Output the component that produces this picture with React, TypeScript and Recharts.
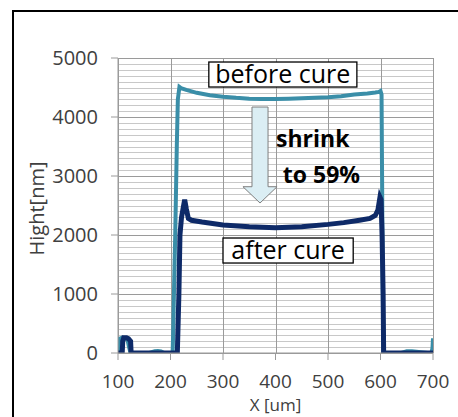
import React from 'react'
import {
  LineChart, Line, XAxis, YAxis, ReferenceArea, ReferenceDot
} from 'recharts'

// before cure profile (x in um, height in nm)
const beforeX = [100, 101, 103, 108, 112, 118, 121, 124, 160, 170, 176, 182, 188, 200, 204, 205, 207, 209, 212, 214, 217, 220, 230, 250, 275, 300, 325, 350, 375, 400, 425, 450, 475, 500, 525, 550, 575, 590, 597, 600, 602, 603, 604, 605.5, 640, 650, 660, 690, 697, 699, 700]
const beforeH = [0, 150, 240, 260, 250, 230, 100, 0, 0, 30, 35, 25, 0, 0, 0, 300, 1200, 2000, 3500, 4300, 4510, 4490, 4460, 4410, 4370, 4345, 4325, 4310, 4305, 4305, 4310, 4318, 4325, 4333, 4350, 4380, 4400, 4415, 4425, 4440, 4380, 3000, 1500, 0, 0, 30, 30, 0, 0, 80, 250]

// after cure profile
const afterX = [100, 108, 109, 111, 116, 120, 124, 125, 160, 200, 213, 216, 218, 221, 224, 227, 230, 234, 240, 260, 300, 350, 400, 450, 500, 530, 560, 580, 590, 595, 599, 601, 603, 605, 606, 650, 700]
const afterH = [0, 0, 200, 260, 260, 240, 200, 0, 0, 0, 0, 1000, 2000, 2300, 2450, 2600, 2450, 2280, 2250, 2220, 2170, 2140, 2125, 2140, 2180, 2210, 2250, 2280, 2330, 2420, 2640, 2600, 2000, 1000, 0, 0, 0]

const xTicks = [100, 200, 300, 400, 500, 600, 700]
const yTicks = [0, 1000, 2000, 3000, 4000, 5000]
const Y_MINOR_STEP = 100

const beforeData = beforeX.map((x, i) => ({ x, h: beforeH[i] }))
const afterData = afterX.map((x, i) => ({ x, h: afterH[i] }))

const FONT = '"Open Sans", sans-serif'
const TEXT_COLOR = '#404040'

// grid drawn inside the plot rectangle (minor every 100 nm, major at ticks)
const Grid = (props: any) => {
  const { x, y, width, height } = props
  const yMax = yTicks[yTicks.length - 1]
  const xMin = xTicks[0]
  const xMax = xTicks[xTicks.length - 1]
  const minor: number[] = []
  for (let v = Y_MINOR_STEP; v < yMax; v += Y_MINOR_STEP) if (v % 1000 !== 0) minor.push(v)
  const py = (v: number) => Math.round(y + height - (v / yMax) * height) + 0.5
  const px = (v: number) => Math.round(x + ((v - xMin) / (xMax - xMin)) * width) + 0.5
  return (
    <g shapeRendering="crispEdges">
      {minor.map(v => (
        <line key={'m' + v} x1={x} x2={x + width} y1={py(v)} y2={py(v)} stroke="#c8c8c8" strokeWidth={1} />
      ))}
      {yTicks.map(v => (
        <line key={'y' + v} x1={x} x2={x + width} y1={py(v)} y2={py(v)} stroke="#9a9a9a" strokeWidth={1} />
      ))}
      {xTicks.map(v => (
        <line key={'x' + v} x1={px(v)} x2={px(v)} y1={y} y2={y + height} stroke="#9a9a9a" strokeWidth={1} />
      ))}
    </g>
  )
}

const LabelBox = (text: string) => (props: any) => {
  const { x, y, width, height } = props
  return (
    <g>
      <rect x={x} y={y} width={width} height={height} fill="#fff" stroke="#000" strokeWidth={1.3} />
      <text x={x + width / 2} y={y + height / 2 + 8.5} textAnchor="middle" fontFamily={FONT} fontSize={25} fill="#000">{text}</text>
    </g>
  )
}

const Arrow = (props: any) => {
  const { x, y, width, height } = props
  const cx = x + width / 2
  const shaftW = width * 0.47
  const headH = height * 0.17
  const d = `M${cx - shaftW / 2},${y} L${cx + shaftW / 2},${y} L${cx + shaftW / 2},${y + height - headH} L${x + width},${y + height - headH} L${cx},${y + height} L${x},${y + height - headH} L${cx - shaftW / 2},${y + height - headH} Z`
  return <path d={d} fill="#dbeef4" stroke="#7f7f7f" strokeWidth={1} />
}

const BoldText = (text: string) => (props: any) => (
  <text x={props.cx} y={props.cy} fontFamily={FONT} fontSize={23} fontWeight="bold" fill="#000">{text}</text>
)

export default function App() {
  return (
    <div style={{ position: 'absolute', left: 0, top: 0, width: 458, height: 417, background: '#fff', overflow: 'hidden' }}>
      <div style={{ position: 'absolute', left: 12, top: 10, width: 500, height: 500, borderTop: '2px solid #000', borderLeft: '2px solid #000' }} />
      <div style={{ position: 'absolute', left: 0, top: 0 }}>
        <LineChart width={458} height={417} data={afterData} margin={{ top: 58, right: 25, left: 0, bottom: 0 }}>
          <ReferenceArea x1={100} x2={700} y1={0} y2={5000} ifOverflow="visible" shape={Grid} />
          <XAxis
            type="number" dataKey="x" domain={[100, 700]} ticks={xTicks} allowDataOverflow
            height={64} tickSize={7} tickMargin={15}
            stroke="#9a9a9a"
            tick={{ fontFamily: FONT, fontSize: 19, fill: TEXT_COLOR }}
            label={{ value: 'X [um]', position: 'insideBottom', offset: 6, fontFamily: FONT, fontSize: 17, fill: TEXT_COLOR }}
          />
          <YAxis
            type="number" domain={[0, 5000]} ticks={yTicks} allowDataOverflow
            width={118} tickSize={7} tickMargin={13}
            stroke="#9a9a9a"
            tick={{ fontFamily: FONT, fontSize: 20, fill: TEXT_COLOR }}
            label={{
              content: (p: any) => {
                const vb = p.viewBox
                const cx = vb.x + 36
                const cy = vb.y + vb.height / 2 + 3
                return (
                  <text x={cx} y={cy} transform={`rotate(-90 ${cx} ${cy})`} textAnchor="middle" dominantBaseline="central" fontFamily={FONT} fontSize={20} fill={TEXT_COLOR}>Hight[nm]</text>
                )
              }
            }}
          />
          <Line data={beforeData} dataKey="h" type="linear" stroke="#3a8ea8" strokeWidth={4} dot={false} isAnimationActive={false} />
          <Line data={afterData} dataKey="h" type="linear" stroke="#0e2a68" strokeWidth={5} dot={false} isAnimationActive={false} />
          <ReferenceArea x1={273} x2={555} y1={4508} y2={4932} ifOverflow="visible" shape={LabelBox('before cure')} />
          <ReferenceArea x1={300} x2={548} y1={1525} y2={1949} ifOverflow="visible" shape={LabelBox('after cure')} />
          <ReferenceArea x1={338} x2={403} y1={2542} y2={4169} ifOverflow="visible" shape={Arrow} />
          <ReferenceDot x={401} y={3492} r={0} ifOverflow="visible" shape={BoldText('shrink')} />
          <ReferenceDot x={414} y={2881} r={0} ifOverflow="visible" shape={BoldText('to 59%')} />
        </LineChart>
      </div>
    </div>
  )
}
